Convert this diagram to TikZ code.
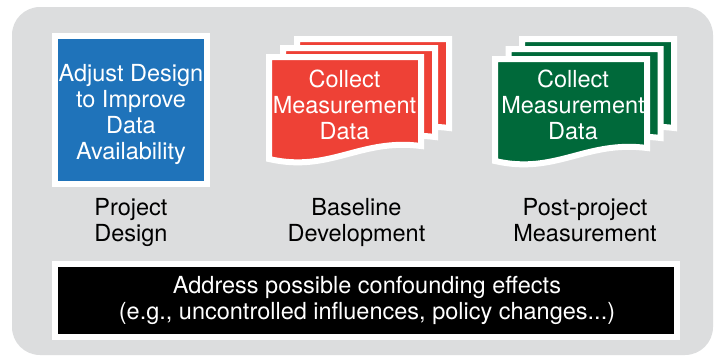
\documentclass[tikz,border=0pt]{standalone}
\usepackage{fontspec}
\setmainfont{TeX Gyre Heros}
\definecolor{bggrey}{HTML}{DCDDDE}
\definecolor{dblue}{HTML}{1F73BA}
\definecolor{dred}{HTML}{EE4136}
\definecolor{dgreen}{HTML}{00693A}
\tikzset{
  page/.style={draw=white, line width=6pt, fill=#1, line join=miter},
  lbl/.style={align=center, font=\fontsize{23.5}{26}\selectfont, text=black, inner sep=0pt},
  wtxt/.style={lbl, text=white},
  whitebox/.style={draw=white, line width=6pt, fill=#1, inner sep=0pt, rectangle},
}
\newcommand\docshape{(0,0) -- (152,0) -- (152,89) .. controls (91,81) and (61,116) .. (0,102) -- cycle}
\begin{document}
\begin{tikzpicture}[x=1pt,y=-1pt]
\useasboundingbox (0,0) rectangle (716,360);
\fill[white] (0,0) rectangle (716,360);
\fill[bggrey, rounded corners=28pt] (12,7) rectangle (713,355);

% Project design box
\node[whitebox=dblue, minimum width=152pt, minimum height=148pt] (design) at (131,110) {};
\node[wtxt] (designtxt) at (131,114.8) {Adjust Design\strut\\to Improve\strut\\Data\strut\\Availability\strut};

% Baseline pages (red)
\begin{scope}[shift={(297,39)}]
  \path[page=dred] \docshape;
\end{scope}
\begin{scope}[shift={(283,48)}]
  \path[page=dred] \docshape;
\end{scope}
\begin{scope}[shift={(269,57)}]
  \path[page=dred] \docshape;
\end{scope}
\node[wtxt] (basetxt) at (344.5,107.8) {Collect\strut\\Measurement\strut\\Data\strut};

% Post-project pages (green)
\begin{scope}[shift={(522,39)}]
  \path[page=dgreen] \docshape;
\end{scope}
\begin{scope}[shift={(508.5,49)}]
  \path[page=dgreen] \docshape;
\end{scope}
\begin{scope}[shift={(495,59)}]
  \path[page=dgreen] \docshape;
\end{scope}
\node[wtxt] (posttxt) at (573,108) {Collect\strut\\Measurement\strut\\Data\strut};

% labels
\node[lbl] (l1) at (131,222.8) {Project\strut\\Design\strut};
\node[lbl] (l2) at (356.5,222.8) {Baseline\strut\\Development\strut};
\node[lbl] (l3) at (585,222.8) {Post-project\strut\\Measurement\strut};

% bottom bar
\node[whitebox=black, minimum width=622pt, minimum height=73pt] (bar) at (366,300.5) {};
\node[wtxt] (bartxt) at (367,300.8) {Address possible confounding effects\strut\\(e.g., uncontrolled influences, policy changes...)\strut};
\end{tikzpicture}
\end{document}
